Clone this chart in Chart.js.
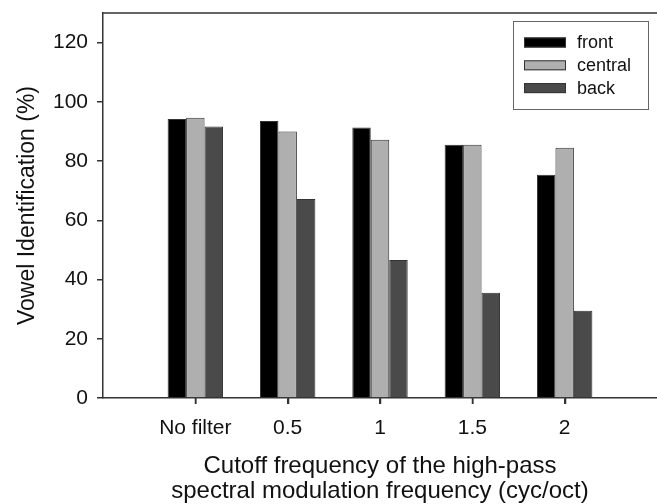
<!DOCTYPE html>
<html>
<head>
<meta charset="utf-8">
<script src="https://cdn.jsdelivr.net/npm/chart.js@4/dist/chart.umd.min.js"></script>
<style>
html,body{margin:0;padding:0;background:#fff;}
#wrap{width:657px;height:504px;position:relative;}
</style>
</head>
<body>
<div id="wrap"><canvas id="c" width="657" height="504"></canvas></div>
<script>
const categories = ['No filter', '0.5', '1', '1.5', '2'];
const seriesNames = ['front', 'central', 'back'];
const front   = [94.2, 93.5, 91.3, 85.5, 75.4];
const central = [94.6, 90.0, 87.2, 85.5, 84.5];
const back    = [91.7, 67.2, 46.6, 35.5, 29.5];
const yTicks = [0, 20, 40, 60, 80, 100, 120];
const colors = ['#000000', '#afafaf', '#4a4a4a'];

const FONT = '"Liberation Sans", Arial, sans-serif';
const toPts = arr => arr.map((v, i) => ({x: i + 1, y: v}));

const frameAndLegend = {
  id: 'frameAndLegend',
  afterDraw(chart) {
    const ctx = chart.ctx, a = chart.chartArea;
    const xs = chart.scales.x;
    ctx.save();
    ctx.strokeStyle = '#333';
    ctx.lineWidth = 1.5;
    ctx.beginPath();
    ctx.moveTo(a.left, a.top);
    ctx.lineTo(a.right, a.top);
    ctx.stroke();
    // x tick marks
    ctx.beginPath();
    categories.forEach((c, i) => {
      const px = Math.round(xs.getPixelForValue(i + 1)) + 0.5;
      ctx.moveTo(px, a.bottom);
      ctx.lineTo(px, a.bottom + 6);
    });
    ctx.stroke();
    // legend
    const bx = 513, by = 21, bw = 135, bh = 88;
    ctx.fillStyle = '#fff';
    ctx.fillRect(bx, by, bw, bh);
    ctx.strokeStyle = '#666';
    ctx.lineWidth = 1;
    ctx.strokeRect(bx + 0.5, by + 0.5, bw, bh);
    ctx.font = '18px ' + FONT;
    ctx.textBaseline = 'middle';
    chart.data.datasets.forEach((ds, i) => {
      const cy = 42.5 + i * 22.8;
      ctx.fillStyle = ds.backgroundColor;
      ctx.fillRect(524, cy - 5, 42, 10);
      ctx.strokeStyle = '#333';
      ctx.strokeRect(524.5, cy - 4.5, 41, 9);
      ctx.fillStyle = '#111';
      ctx.fillText(ds.label, 577, cy + 1);
    });
    ctx.restore();
  }
};

new Chart(document.getElementById('c'), {
  type: 'bar',
  data: {
    datasets: [front, central, back].map((d, i) => ({
      label: seriesNames[i],
      data: toPts(d),
      backgroundColor: colors[i],
      borderColor: '#333',
      borderWidth: 1,
      categoryPercentage: 0.6,
      barPercentage: 1.0
    }))
  },
  options: {
    responsive: false,
    animation: false,
    layout: {padding: {left: 0, right: 0, top: 13, bottom: 0}},
    plugins: {legend: {display: false}, tooltip: {enabled: false}},
    scales: {
      x: {
        type: 'linear',
        min: 0,
        max: 6,
        offset: false,
        afterBuildTicks: s => { s.ticks = categories.map((c, i) => ({value: i + 1})); },
        afterFit: s => { s.height = 106; s.paddingLeft = 0; s.paddingRight = 0; },
        ticks: {
          autoSkip: false,
          maxRotation: 0,
          padding: 12,
          color: '#111',
          font: {family: FONT, size: 21},
          callback: v => categories[v - 1] ?? ''
        },
        grid: {offset: false, drawOnChartArea: false, drawTicks: true, tickLength: 6, color: '#333', lineWidth: 1.5},
        border: {color: '#333', width: 1.5},
        title: {
          display: true,
          text: ['Cutoff frequency of the high-pass', 'spectral modulation frequency (cyc/oct)'],
          color: '#111',
          font: {family: FONT, size: 24, lineHeight: 1.04},
          padding: {top: 0, bottom: 0}
        }
      },
      y: {
        min: 0,
        max: 130,
        afterBuildTicks: s => { s.ticks = yTicks.map(v => ({value: v})); },
        afterFit: s => { s.width = 103; s.paddingTop = 0; s.paddingBottom = 0; },
        ticks: {
          padding: 9,
          color: '#111',
          font: {family: FONT, size: 21}
        },
        grid: {drawOnChartArea: false, drawTicks: true, tickLength: 6, color: '#333', lineWidth: 1.5},
        border: {color: '#333', width: 1.5},
        title: {
          display: true,
          text: 'Vowel Identification (%)',
          color: '#111',
          font: {family: FONT, size: 23},
          padding: {top: 14, bottom: 0}
        }
      }
    }
  },
  plugins: [frameAndLegend]
});
</script>
</body>
</html>
